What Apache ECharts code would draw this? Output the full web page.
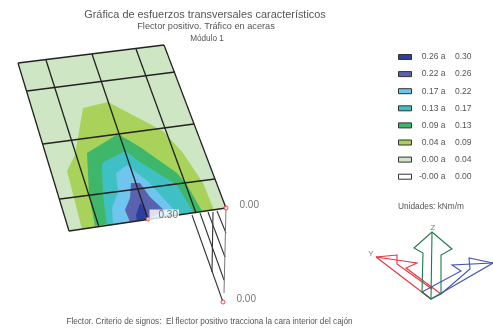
<!DOCTYPE html>
<html>
<head>
<meta charset="utf-8">
<style>html,body{margin:0;padding:0;background:#fff}#c{width:493px;height:333px}</style>
<script src="https://cdn.jsdelivr.net/npm/echarts@6/dist/echarts.min.js"></script>
</head>
<body>
<div id="c"></div>
<script>
// Contour bands (outermost first)
var bandRanges = ['0.00 a|0.04','0.04 a|0.09','0.09 a|0.13','0.13 a|0.17','0.17 a|0.22','0.22 a|0.26','0.26 a|0.30'];
var bandColors = ['#cfe6c5','#a8d25a','#3fb76a','#3fc0c5','#6fc5ee','#5a62b0','#2d3f9e'];
var band0 = [[18,63],[164,45],[226,208],[148,219],[69,231]];
var band1 = [[83,108],[108,102],[163,131],[183,153],[203,183],[214,210],[148,219],[82,229],[75,202],[67,171],[75,155]];
var band2 = [[87,153],[118,134],[140,147],[177,173],[187,185],[202,211],[148,219],[95,226],[89,195]];
var band3 = [[102,163],[125,151],[140,162],[177,185],[193,212],[148,219],[107,226],[103,195]];
var band4 = [[116,173],[127,165],[150,183],[162,197],[176,212],[148,219],[113,224],[112,208],[118,192]];
var band5 = [[131,183],[140,183],[150,197],[165,211],[148,219],[130,222],[125,210],[130,198]];
var band6 = [[137,221],[136,215],[140,203],[145,207],[148,219]];
var bands = [band0,band1,band2,band3,band4,band5,band6];
var emptyBand = '-0.00 a|0.00';

// Mesh lines
var meshLines = [
  [[18,63],[164,45]], [[27,91],[175,72]], [[43,144],[194,124]], [[60,199],[215,179]], [[69,231],[226,208]],
  [[18,63],[69,231]], [[46,60],[99,227]], [[92,54],[148,219]], [[136,49],[196,213]], [[164,45],[226,208]]
];
// Moment diagram lines hanging under the slab edge
var diagramLines = [
  [[192,215],[223,302]], [[200,213],[224,280]], [[208,212],[225,257]], [[217,211],[226,233]], [[213,212],[212,272]]
];
var diagramEdge = [[226,208],[224,293]];

// Extreme-value markers
var extremes = [[148,219,'0.30'],[226,208,'0.00'],[223,302,'0.00']];

// Axis triad
var axisGreen = [[[431,299],[432,232]],[[422,292],[423,253],[414,248],[432,232],[452,249],[441,255],[441,294]],[[422,292],[431,299],[441,294]]];
var axisRed = [[[431,299],[376,257]],[[376,257],[397,255],[397,264],[432,289]],[[376,257],[417,263],[406,268],[441,294]],[[422,292],[431,299]]];
var axisBlue = [[[431,299],[493,263]],[[493,263],[469,258],[470,269],[441,294]],[[493,263],[452,265],[461,271],[422,292]]];
var axisNames = [[433,228,'Z'],[371,254,'Y']];

var FONT = '"Liberation Sans", Arial, sans-serif';
var TEXT = '#555';

function polygonSeries(name, color, pts) {
  return {
    type: 'custom', name: name, coordinateSystem: 'cartesian2d', silent: true, animation: false,
    itemStyle: { color: color, borderColor: '#222', borderWidth: 1 },
    encode: { x: 0, y: 1 }, data: pts, clip: false,
    renderItem: function (params, api) {
      if (params.dataIndex !== 0) return null;
      return { type: 'polygon', shape: { points: pts.map(function (p) { return api.coord(p); }) },
               style: { fill: color, stroke: null } };
    }
  };
}
function polySeries(lines, color, width) {
  var rows = lines.map(function (l, i) { return [l[0][0], l[0][1], i]; });
  return {
    type: 'custom', coordinateSystem: 'cartesian2d', silent: true, animation: false, clip: false,
    encode: { x: 0, y: 1 }, data: rows,
    renderItem: function (params, api) {
      var l = lines[params.dataIndex];
      return { type: 'polyline', shape: { points: l.map(function (p) { return api.coord(p); }) },
               style: { fill: null, stroke: color, lineWidth: width } };
    }
  };
}

var series = [];
bands.forEach(function (b, i) { series.push(polygonSeries(bandRanges[i], bandColors[i], b)); });
series.push(polygonSeries(emptyBand, '#ffffff', []));
series.push(polySeries(meshLines, '#222222', 1.3));
series.push(polySeries(diagramLines, '#333333', 1.1));
series.push(polySeries([diagramEdge], '#777777', 1));
series.push(polySeries(axisRed, '#e8333f', 1.1));
series.push(polySeries(axisBlue, '#3f55b0', 1.1));
series.push(polySeries(axisGreen, '#1f7a4a', 1.1));
series.push({
  type: 'scatter', silent: true, animation: false, symbol: 'circle', symbolSize: 4, clip: false, z: 5,
  itemStyle: { color: '#fff', borderColor: '#e0202a', borderWidth: 1 },
  label: { show: true, position: 'right', distance: 1, fontFamily: FONT, fontSize: 10, color: TEXT,
    formatter: function (p) { return p.data.value[2]; } },
  data: extremes.map(function (e, i) {
    return { value: e, label: i === 0
      ? { backgroundColor: '#ffffff', distance: -1, padding: [1, 1, 0, 9], offset: [0, -4] }
      : { offset: [10, -3] } };
  })
});
series.push({
  type: 'scatter', silent: true, animation: false, symbolSize: 0, clip: false,
  label: { show: true, position: 'inside', fontFamily: FONT, fontSize: 8, color: TEXT,
    formatter: function (p) { return p.data[2]; } },
  data: axisNames
});

var legendNames = bandRanges.slice().reverse().concat([emptyBand]);
var legendColors = bandColors.slice().reverse().concat(['#ffffff']);

var option = {
  backgroundColor: '#fff',
  animation: false,
  grid: { left: 0, right: 0, top: 0, bottom: 0 },
  xAxis: { type: 'value', min: 0, max: 493, show: false },
  yAxis: { type: 'value', min: 0, max: 333, inverse: true, show: false },
  title: [
    { text: 'Gráfica de esfuerzos transversales característicos', left: 205, top: 9, padding: 0, textAlign: 'center',
      textStyle: { fontFamily: FONT, fontWeight: 'normal', fontSize: 10.9, color: TEXT } },
    { text: 'Flector positivo. Tráfico en aceras', left: 206, top: 22, padding: 0, textAlign: 'center',
      textStyle: { fontFamily: FONT, fontWeight: 'normal', fontSize: 9.2, color: TEXT } },
    { text: 'Módulo 1', left: 207, top: 35, padding: 0, textAlign: 'center',
      textStyle: { fontFamily: FONT, fontWeight: 'normal', fontSize: 8.2, color: TEXT } },
    { text: 'Flector. Criterio de signos:  El flector positivo tracciona la cara interior del cajón', left: 209.5, top: 318, padding: 0, textAlign: 'center',
      textStyle: { fontFamily: FONT, fontWeight: 'normal', fontSize: 8.2, color: TEXT } },
    { text: 'Unidades: kNm/m', left: 398, top: 203, padding: 0,
      textStyle: { fontFamily: FONT, fontWeight: 'normal', fontSize: 8.3, color: TEXT } }
  ],
  legend: {
    orient: 'vertical', left: 398, top: 52, selectedMode: false, itemWidth: 13, itemHeight: 5,
    itemGap: 7.1, icon: 'rect', padding: 0,
    data: legendNames.map(function (n, i) {
      return { name: n, icon: 'rect', itemStyle: { color: legendColors[i], borderColor: '#333', borderWidth: 1 } };
    }),
    formatter: function (n) { var p = n.split('|'); return '{a|' + p[0] + '}{b|' + p[1] + '}'; },
    textStyle: { fontFamily: FONT, fontSize: 8.5, color: TEXT, lineHeight: 10,
      rich: { a: { fontFamily: FONT, fontSize: 8.5, color: TEXT, width: 29, align: 'right', lineHeight: 10 },
              b: { fontFamily: FONT, fontSize: 8.5, color: TEXT, width: 26, align: 'right', lineHeight: 10 } } }
  },
  series: series
};
var chart = echarts.init(document.getElementById('c'), null, { renderer: 'canvas' });
chart.setOption(option);
</script>
</body>
</html>
